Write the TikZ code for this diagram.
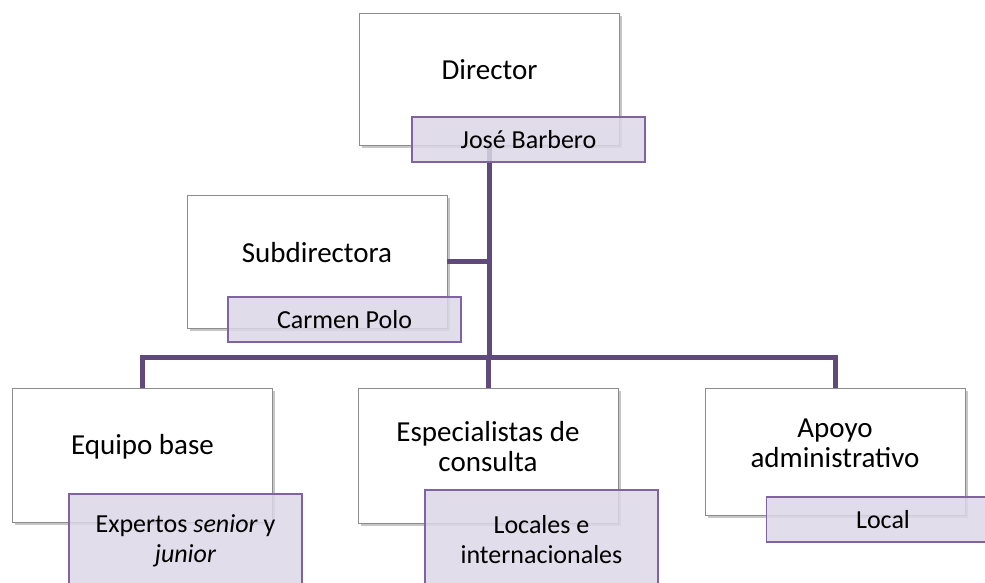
\documentclass[tikz,border=0pt]{standalone}
\usepackage{fontspec}
\setmainfont{Carlito}
\usetikzlibrary{shadows}
\definecolor{orgline}{RGB}{96,74,123}
\definecolor{namefill}{RGB}{220,215,230}
\definecolor{namedraw}{RGB}{128,100,162}
\definecolor{boxdraw}{RGB}{140,140,140}
\tikzset{
	posbox/.style={draw=boxdraw, fill=white, line width=0.8pt, minimum width=260pt,
		drop shadow={shadow xshift=2.5pt, shadow yshift=-3pt, opacity=0.45}},
	postext/.style={align=center, font=\fontsize{29}{30}\selectfont},
	namebox/.style={draw=namedraw, line width=1.2pt, fill=namefill, fill opacity=0.85,
		text opacity=1, minimum width=233pt, align=center, font=\fontsize{26}{30}\selectfont},
	link/.style={draw=orgline, line width=5pt}
}

\begin{document}
\begin{tikzpicture}[x=1pt, y=-1pt]
	\useasboundingbox (0,0) rectangle (985,582);
	\clip (0,0) rectangle (985,582);
	
	%boxes
	\node[posbox, minimum height=132pt] (dir) at (489.5,79) {};
	\node[posbox, minimum height=133pt] (sub) at (317,261.5) {};
	\node[posbox, minimum height=134pt] (eqp) at (142.5,455) {};
	\node[posbox, minimum height=135pt] (esp) at (488,455.5) {};
	\node[posbox, minimum height=127pt] (apo) at (835,451.5) {};
	
	%connectors (under the name boxes)
	\coordinate (bar) at (489.5,357);
	\draw[link] (dir.south) -- (bar);
	\draw[link] (sub.east) -- (sub.east -| bar);
	\foreach \n in {eqp,esp,apo}
		\draw[link] (\n.north) |- (bar);
	
	%titles
	\node[postext] (dir-t) at (489.5,70) {Director};
	\node[postext] (sub-t) at (317,253) {Subdirectora};
	\node[postext] (eqp-t) at (142.5,447) {Equipo base};
	\node[postext] (esp-t) at (488,447) {Especialistas de\\consulta};
	\node[postext] (apo-t) at (835,443) {Apoyo\\administrativo};
	
	%names
	\node[namebox, minimum height=45pt] (jose) at (528.5,139.5) {José Barbero};
	\node[namebox, minimum height=45pt] (carmen) at (344.5,319.5) {Carmen Polo};
	\node[namebox, minimum height=94pt] (expe) at (185.5,541) {Expertos \textit{senior} y\\\textit{junior}};
	\node[namebox, minimum height=100pt] (loca) at (541.5,540) {Locales e\\internacionales};
	\node[namebox, minimum height=45pt] (local) at (883,519.5) {Local};
\end{tikzpicture}
\end{document}
